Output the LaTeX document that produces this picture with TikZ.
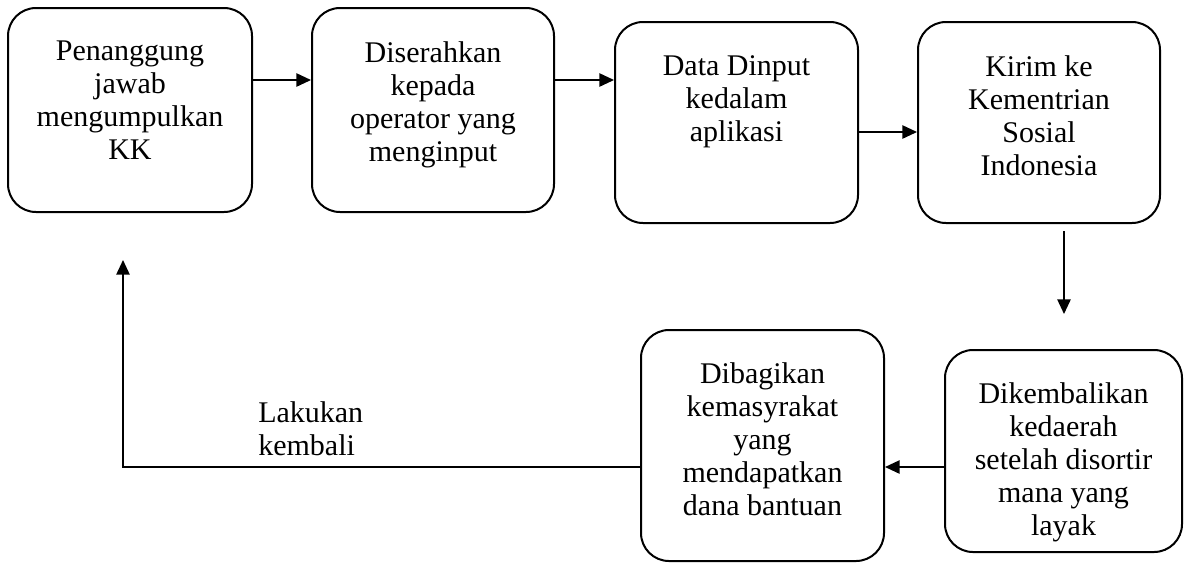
\documentclass[tikz,border=0pt]{standalone}
\usepackage{fontspec}
\setmainfont{Liberation Serif}
\usetikzlibrary{arrows.meta}

\begin{document}
\begin{tikzpicture}[x=0.75pt,y=-0.75pt,
    box/.style={draw, line width=1.5pt, rounded corners=21pt},
    txt/.style={align=center, inner sep=0pt, anchor=north, font=\fontsize{22.5}{24.75}\selectfont},
    flow/.style={line width=1.2pt, -{Triangle[length=11pt,width=10pt]}}]
    \def\px{0.75pt}
    \useasboundingbox (0,0) rectangle (1184,562);
    % top row
    \node[box, minimum width=244*\px, minimum height=204*\px] (kk) at (130,110) {};
    \node[box, minimum width=242*\px, minimum height=204*\px] (serah) at (433,110) {};
    \node[box, minimum width=243*\px, minimum height=201*\px] (input) at (736.5,122.5) {};
    \node[box, minimum width=242*\px, minimum height=201*\px] (kirim) at (1039,122.5) {};
    % bottom row
    \node[box, minimum width=237*\px, minimum height=202*\px] (kembali) at (1063.5,451) {};
    \node[box, minimum width=243*\px, minimum height=231*\px] (bagi) at (762.5,445.5) {};
    % texts
    \node[txt] (kk-t) at ([yshift=-34*\px]kk.north) {Penanggung\\jawab\\mengumpulkan\\KK};
    \node[txt] (serah-t) at ([yshift=-34*\px]serah.north) {Diserahkan\\kepada\\operator yang\\menginput};
    \node[txt] (input-t) at ([yshift=-34*\px]input.north) {Data Dinput\\kedalam\\aplikasi};
    \node[txt] (kirim-t) at ([yshift=-34*\px]kirim.north) {Kirim ke\\Kementrian\\Sosial\\Indonesia};
    \node[txt] (kembali-t) at ([yshift=-33*\px]kembali.north) {Dikembalikan\\kedaerah\\setelah disortir\\mana yang\\layak};
    \node[txt] (bagi-t) at ([yshift=-33*\px]bagi.north) {Dibagikan\\kemasyrakat\\yang\\mendapatkan\\dana bantuan};
    % arrow rows
    \coordinate (top) at (0,80);
    \coordinate (mid) at (0,132);
    \coordinate (low) at (0,467);
    \coordinate (dx) at (1064,0);
    \coordinate (back) at (123,260);
    \draw[flow] (kk.east |- top) -- (serah.west |- top);
    \draw[flow] (serah.east |- top) -- (input.west |- top);
    \draw[flow] (input.east |- mid) -- (kirim.west |- mid);
    \draw[flow] ([yshift=-7*\px]kirim.south -| dx) -- ([yshift=35*\px]kembali.north -| dx);
    \draw[flow] (kembali.west |- low) -- (bagi.east |- low);
    \draw[flow] (bagi.west |- low) -| (back); % back to start
    \node[txt, align=left, anchor=west] (lagi) at (258,429) {Lakukan\\kembali};
\end{tikzpicture}
\end{document}
